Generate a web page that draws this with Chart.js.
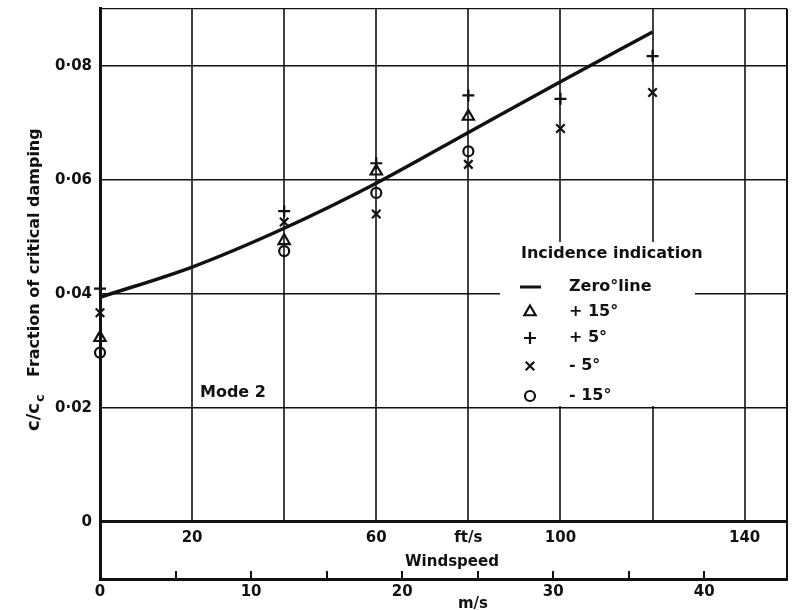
<!DOCTYPE html>
<html>
<head>
<meta charset="utf-8">
<script src="https://cdn.jsdelivr.net/npm/chart.js@4.4.1/dist/chart.umd.min.js"></script>
<style>
  html, body { margin: 0; padding: 0; background: #fff; }
  #wrap { width: 798px; height: 610px; position: relative; }
</style>
</head>
<body>
<div id="wrap"><canvas id="dampingChart"></canvas></div>
<script>
// windspeed in ft/s - all readings sit on the ft/s grid lines
const speedsLong = [0, 40, 60, 80, 100, 120];
const speedsShort = [0, 40, 60, 80];
const zeroLineSpeeds = [0, 20, 40, 60, 80, 100, 120];

// c/cc, fraction of critical damping
const zeroLine = [0.0394, 0.0447, 0.0515, 0.0594, 0.0683, 0.0772, 0.0859];
const plus15 = [0.0323, 0.0493, 0.0615, 0.0711];
const plus5 = [0.0409, 0.0545, 0.0629, 0.0748, 0.0742, 0.0817];
const minus5 = [0.0367, 0.0526, 0.0540, 0.0627, 0.0690, 0.0753];
const minus15 = [0.0297, 0.0475, 0.0577, 0.0650];

// axes
const yTicks = [0, 0.02, 0.04, 0.06, 0.08];
const ftGridLines = [20, 40, 60, 80, 100, 120, 140];
const ftTickValues = [20, 60, 80, 100, 140];
const ftTickText = ['20', '60', 'ft/s', '100', '140'];
const msTicks = [0, 10, 20, 30, 40];
const msMinorTicks = [5, 10, 15, 20, 25, 30, 35, 40];
const legendTitle = 'Incidence indication';
const legendLabels = ['Zero°line', '+ 15°', '+ 5°', '- 5°', '- 15°'];

const FT_MAX = 149.2;
const FT_TO_MS = 0.3048;
const FONT = '"DejaVu Sans", sans-serif';
const INK = '#111';

const pts = (xs, ys) => xs.map((x, i) => ({ x: x, y: ys[i] }));

function markerSet(label, style, xs, ys, r) {
    return {
        label: label,
        data: pts(xs, ys),
        pointStyle: style,
        pointRadius: r,
        borderColor: INK,
        backgroundColor: 'rgba(0,0,0,0)',
        borderWidth: 2.2,
        showLine: false,
        clip: false
    };
}

function drawMarker(ctx, style, x, y, r) {
    ctx.beginPath();
    if (style === 'triangle') {
        ctx.moveTo(x, y - r);
        ctx.lineTo(x + r * Math.sin(2 * Math.PI / 3), y + r / 2);
        ctx.lineTo(x - r * Math.sin(2 * Math.PI / 3), y + r / 2);
        ctx.closePath();
    } else if (style === 'cross') {
        ctx.moveTo(x - r, y); ctx.lineTo(x + r, y);
        ctx.moveTo(x, y - r); ctx.lineTo(x, y + r);
    } else if (style === 'crossRot') {
        const d = r * Math.SQRT1_2;
        ctx.moveTo(x - d, y - d); ctx.lineTo(x + d, y + d);
        ctx.moveTo(x - d, y + d); ctx.lineTo(x + d, y - d);
    } else {
        ctx.arc(x, y, r, 0, Math.PI * 2);
    }
    ctx.stroke();
}

const paperPlugin = {
    id: 'paper',
    beforeDatasetsDraw(chart) {
        const { ctx, chartArea: a } = chart;
        const x = chart.scales.x, y = chart.scales.y;
        const y0 = y.getPixelForValue(0);
        ctx.save();
        ctx.strokeStyle = INK;
        ctx.lineWidth = 1.6;
        ftGridLines.forEach(v => {
            const px = Math.round(x.getPixelForValue(v));
            ctx.beginPath(); ctx.moveTo(px, a.top); ctx.lineTo(px, y0); ctx.stroke();
        });
        // frame top and right
        ctx.lineWidth = 1.2;
        ctx.beginPath(); ctx.moveTo(a.left, a.top); ctx.lineTo(a.right, a.top); ctx.stroke();
        ctx.lineWidth = 2;
        ctx.beginPath(); ctx.moveTo(a.right, a.top); ctx.lineTo(a.right, a.bottom); ctx.stroke();
        // clear paper under the legend
        ctx.fillStyle = '#fff';
        ctx.fillRect(500, 242, 195, 164);
        ctx.restore();
    },
    afterDraw(chart) {
        const { ctx, chartArea: a } = chart;
        const x = chart.scales.x, y = chart.scales.y, ms = chart.scales.ms;
        const y0 = y.getPixelForValue(0);
        ctx.save();
        ctx.fillStyle = INK;
        ctx.strokeStyle = INK;

        // inward m/s ticks on the bottom line
        ctx.lineWidth = 2;
        msMinorTicks.forEach(v => {
            const px = Math.round(ms.getPixelForValue(v));
            ctx.beginPath(); ctx.moveTo(px, a.bottom); ctx.lineTo(px, a.bottom - 8); ctx.stroke();
        });

        // ft/s labels inside the band
        ctx.font = 'bold 15px ' + FONT;
        ctx.textAlign = 'center';
        ctx.textBaseline = 'middle';
        ftTickValues.forEach((v, i) => {
            ctx.fillText(ftTickText[i], x.getPixelForValue(v), y0 + 16);
        });
        ctx.fillText('Windspeed', 452, y0 + 40);
        ctx.fillText('m/s', 473, 604);

        ctx.font = 'bold 16px ' + FONT;
        ctx.textAlign = 'left';
        ctx.fillText('Mode 2', 200, 393);

        // legend
        ctx.fillText(legendTitle, 521, 254);
        const rowY = [287, 312, 338, 366, 396];
        const styles = ['line', 'triangle', 'cross', 'crossRot', 'circle'];
        const radii = [0, 6.5, 6, 6, 5];
        rowY.forEach((ry, i) => {
            ctx.fillText(legendLabels[i], 569, ry);
            if (styles[i] === 'line') {
                ctx.lineWidth = 3;
                ctx.beginPath(); ctx.moveTo(520, ry); ctx.lineTo(541, ry); ctx.stroke();
            } else {
                ctx.lineWidth = 2.2;
                drawMarker(ctx, styles[i], 530, ry, radii[i]);
            }
        });

        // y axis title with subscript
        ctx.translate(39, 431);
        ctx.rotate(-Math.PI / 2);
        ctx.textBaseline = 'alphabetic';
        ctx.font = 'bold 18px ' + FONT;
        ctx.fillText('c/c', 0, 0);
        const w = ctx.measureText('c/c').width;
        ctx.font = 'bold 13px ' + FONT;
        ctx.fillText('c', w + 1, 5);
        ctx.font = 'bold 16px ' + FONT;
        ctx.fillText('Fraction of critical damping', 54, 0);
        ctx.restore();
    }
};

new Chart(document.getElementById('dampingChart'), {
    type: 'scatter',
    data: {
        datasets: [
            {
                label: legendLabels[0],
                data: pts(zeroLineSpeeds, zeroLine),
                showLine: true,
                borderColor: INK,
                borderWidth: 3.5,
                pointRadius: 0,
                tension: 0.4,
                cubicInterpolationMode: 'monotone'
            },
            markerSet(legendLabels[1], 'triangle', speedsShort, plus15, 6.5),
            markerSet(legendLabels[2], 'cross', speedsLong, plus5, 6),
            markerSet(legendLabels[3], 'crossRot', speedsLong, minus5, 6),
            markerSet(legendLabels[4], 'circle', speedsShort, minus15, 5)
        ]
    },
    options: {
        responsive: true,
        maintainAspectRatio: false,
        animation: false,
        events: [],
        layout: { padding: { top: 7, right: 11, left: 0, bottom: 0 } },
        plugins: {
            legend: { display: false },
            tooltip: { enabled: false }
        },
        scales: {
            x: {
                type: 'linear',
                display: false,
                min: 0,
                max: FT_MAX
            },
            ms: {
                type: 'linear',
                position: 'bottom',
                min: 0,
                max: FT_MAX * FT_TO_MS,
                afterBuildTicks: s => { s.ticks = msTicks.map(v => ({ value: v })); },
                afterFit: s => { s.height = 31; s.paddingLeft = 0; s.paddingRight = 0; },
                grid: { display: false, drawTicks: false },
                border: { display: true, color: INK, width: 3 },
                ticks: {
                    padding: 4,
                    color: INK,
                    maxRotation: 0,
                    autoSkip: false,
                    font: { family: FONT, size: 15, weight: 'bold' }
                }
            },
            y: {
                min: -0.01,
                max: 0.09,
                afterBuildTicks: s => { s.ticks = yTicks.map(v => ({ value: v })); },
                afterFit: s => { s.width = 100; s.paddingTop = 0; s.paddingBottom = 0; },
                grid: {
                    color: INK,
                    lineWidth: c => (c.tick && c.tick.value === 0 ? 3 : 1.6),
                    drawTicks: false
                },
                border: { display: true, color: INK, width: 3 },
                ticks: {
                    padding: 8,
                    color: INK,
                    font: { family: FONT, size: 15, weight: 'bold' },
                    callback: v => (v === 0 ? '0' : v.toFixed(2).replace('.', '·'))
                }
            }
        }
    },
    plugins: [paperPlugin]
});
</script>
</body>
</html>
